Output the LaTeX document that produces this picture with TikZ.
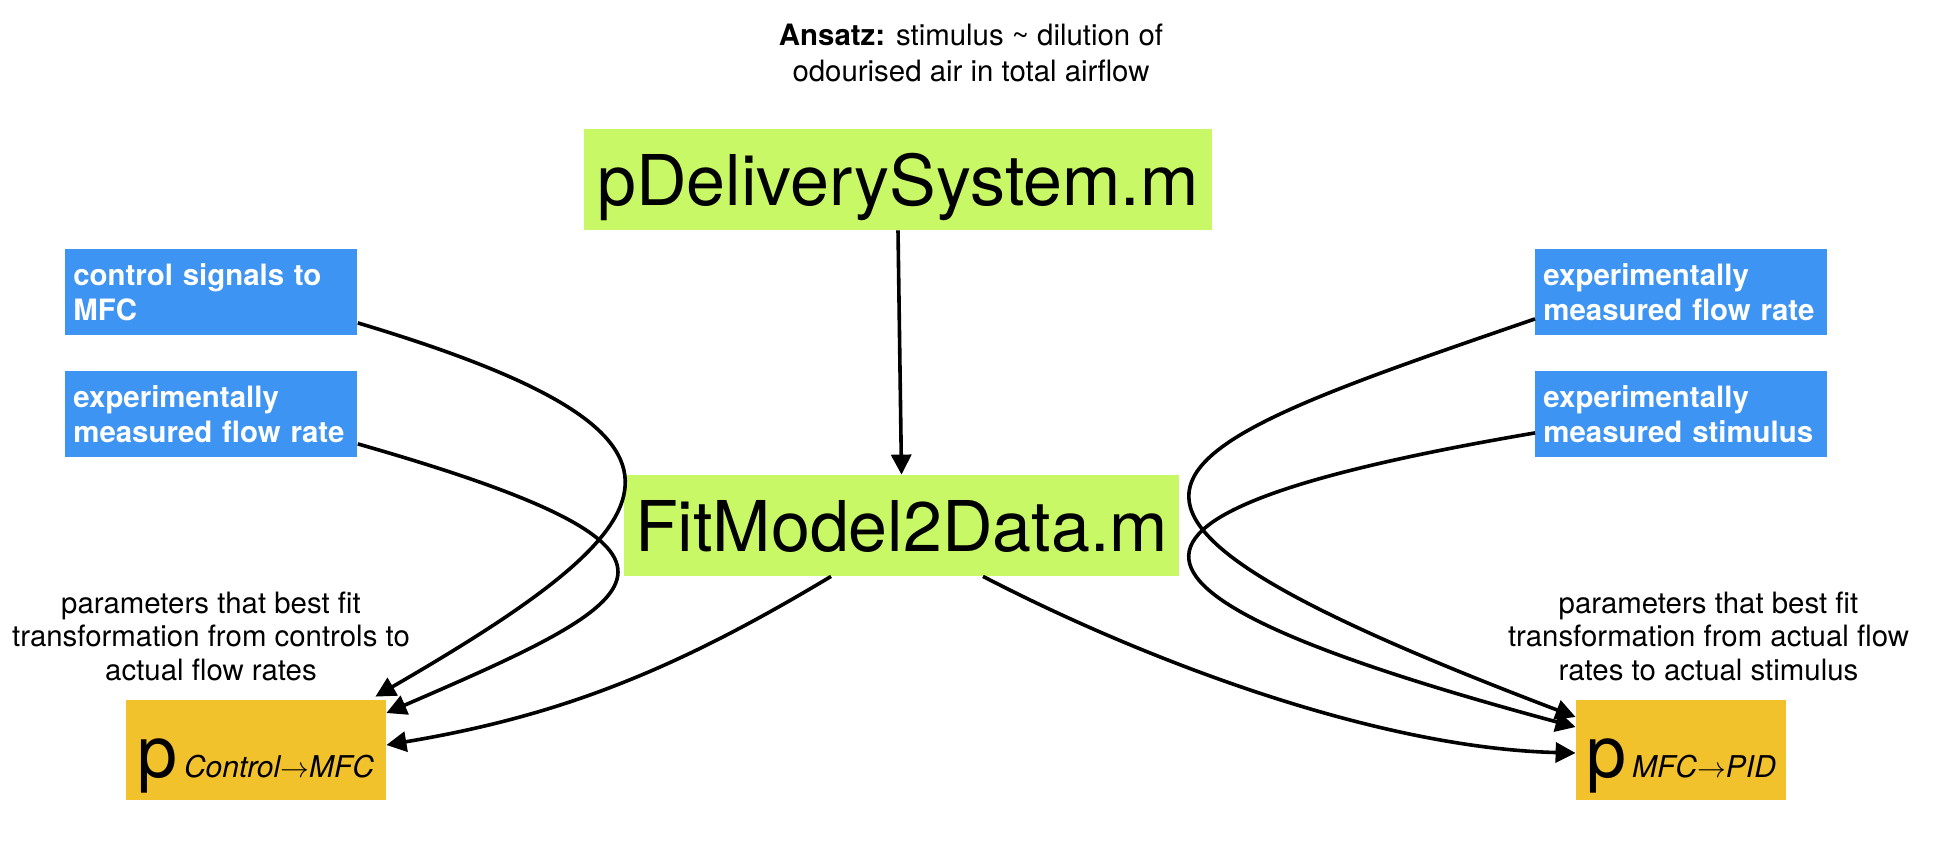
\documentclass[tikz,border=0pt]{standalone}
\usepackage{fontspec}
\setmainfont{TeX Gyre Heros}
\usetikzlibrary{calc,arrows.meta}

\definecolor{limegreen}{HTML}{C9F866}
\definecolor{skyblue}{HTML}{3E94F2}
\definecolor{mustard}{HTML}{F2C22C}

\tikzset{
	note/.style={align=center, inner sep=0pt, font=\fontsize{14.7pt}{16.75pt}\selectfont},
	greenbox/.style={fill=limegreen, inner sep=0pt, minimum height=50.5pt, text height=38pt, text depth=12.5pt, font=\fontsize{35pt}{40pt}\selectfont},
	bluebox/.style={fill=skyblue, text=white, anchor=north west, align=left, text width=138pt, inner xsep=4pt, inner ysep=0pt, minimum height=43pt, font=\fontsize{14.7pt}{17.5pt}\selectfont\bfseries},
	orangebox/.style={fill=mustard, inner sep=0pt, minimum height=50pt, text height=38.5pt, text depth=11.5pt},
	link/.style={line width=1.8pt, -{Triangle[length=10pt,width=10pt]}},
}
\newcommand{\bigp}{{\fontsize{36pt}{40pt}\selectfont p}\hspace{3pt}}
\newcommand{\subtxt}[1]{{\fontsize{15pt}{18pt}\selectfont\itshape #1}}

\begin{document}
\begin{tikzpicture}[x=0.5pt, y=-0.5pt]
			%%%%% START %%%%%
			\useasboundingbox (0, 0) rectangle (1946, 842);
			
			\node[note, font=\fontsize{14.7pt}{18pt}\selectfont] (ansatz) at (971, 52.5) {\textbf{Ansatz:} stimulus \textasciitilde{} dilution of\\odourised air in total airflow};
			
			\node[greenbox, minimum width=313.75pt] (pds) at (898, 179.5) {pDeliverySystem.m};
			\node[greenbox, minimum width=277.5pt] (fit) at (901.5, 525.5) {FitModel2Data.m};
			
			\node[bluebox] (ctrl) at (65, 249) {control signals to\\MFC};
			\node[bluebox] (flow) at (65, 371) {experimentally\\measured flow rate};
			\node[bluebox] (rflow) at (1535, 249) {experimentally\\measured flow rate};
			\node[bluebox] (stim) at (1535, 371) {experimentally\\measured stimulus};
			
			\node[orangebox, minimum width=130pt] (lorange) at (256, 750) {\bigp\subtxt{Control$\rightarrow$MFC}};
			\node[orangebox, minimum width=105pt] (rorange) at (1681, 750) {\bigp\subtxt{MFC$\rightarrow$PID}};
			
			\node[note] (lnote) at (211, 636) {parameters that best fit\\transformation from controls to\\actual flow rates};
			\node[note] (rnote) at (1708.5, 636) {parameters that best fit\\transformation from actual flow\\rates to actual stimulus};
			
			\draw[link] (pds.south) -- (fit.north);
			
			\draw[link] ($(ctrl.east)+(0, 30.5)$) .. controls +(380, 114) and +(304, -176) .. ($(lorange.north east)+(-11, -3)$);
			\draw[link] ($(flow.east)+(0, 29.5)$) .. controls +(385, 110) and +(264, -114) .. ($(lorange.east)+(0, -37)$);
			\draw[link] ($(fit.south)+(-70.5, 0)$) .. controls +(-150, 90) and +(180, -30) .. ($(lorange.east)+(0, -5)$);
			
			\draw[link] ($(rflow.west)+(0, 26.5)$) .. controls +(-395, 136) and +(-573, -218) .. ($(rorange.west)+(0, -33)$);
			\draw[link] ($(stim.west)+(0, 18.5)$) .. controls +(-475, 81) and +(-496, -134) .. ($(rorange.west)+(0, -23)$);
			\draw[link] ($(fit.south)+(81.5, 0)$) .. controls +(160, 83) and +(-200, -5) .. ($(rorange.west)+(0, 3)$);
			
			%%%%% END %%%%%
\end{tikzpicture}
\end{document}
